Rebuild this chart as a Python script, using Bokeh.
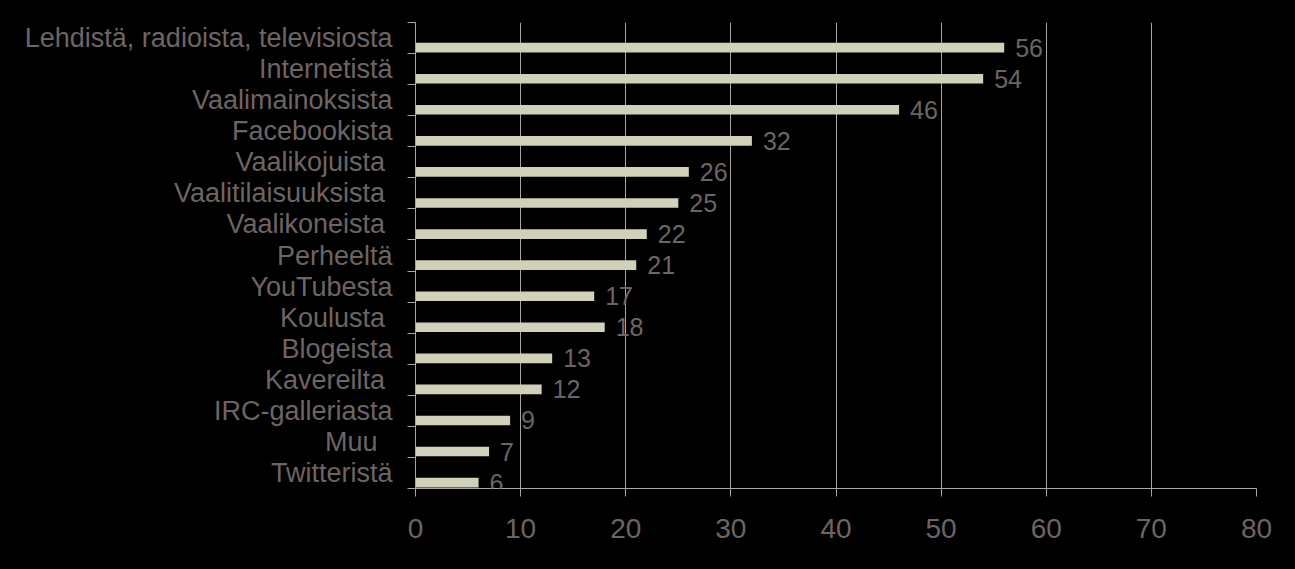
from bokeh.plotting import figure
from bokeh.models import ColumnDataSource, Range1d, FixedTicker, LabelSet
from bokeh.embed import file_html
from bokeh.resources import INLINE
from bokeh.core.properties import value

categories = ["Lehdistä, radioista, televisiosta", "Internetistä", "Vaalimainoksista",
              "Facebookista", "Vaalikojuista ", "Vaalitilaisuuksista ", "Vaalikoneista ",
              "Perheeltä", "YouTubesta", "Koulusta ", "Blogeista", "Kavereilta ",
              "IRC-galleriasta", "Muu  ", "Twitteristä"]
values = [56, 54, 46, 32, 26, 25, 22, 21, 17, 18, 13, 12, 9, 7, 6]
x_ticks = [0, 10, 20, 30, 40, 50, 60, 70, 80]

TEXT = "#6E6466"
GRID = "#A6A6A6"
BAR = "#D1D1B9"
FONT = "Liberation Sans"

n = len(categories)
centers = [n - i - 0.5 for i in range(n)]
bar_y = [c - 0.31 for c in centers]

src = ColumnDataSource(dict(cat=categories, val=values, y=bar_y,
                            lab=[str(v) for v in values]))

p = figure(width=1295, height=569, output_backend="svg", toolbar_location=None,
           x_range=Range1d(0, 80), y_range=Range1d(0, n),
           background_fill_color="black", border_fill_color="black",
           min_border_left=415, min_border_right=39, min_border_top=22,
           min_border_bottom=81)
p.outline_line_color = None

p.hbar(y="y", right="val", left=0, height=0.31, source=src, fill_color=BAR,
       line_color=None)

labels = LabelSet(x="val", y="y", text="lab", source=src, x_offset=11,
                  text_baseline="middle", text_align="left",
                  text_color=TEXT, text_font=value(FONT), text_font_size="25px")
p.add_layout(labels)

# x axis
p.xaxis.ticker = FixedTicker(ticks=x_ticks)
p.xaxis.axis_line_color = GRID
p.xaxis.major_tick_line_color = GRID
p.xaxis.major_tick_out = 8
p.xaxis.major_tick_in = 0
p.xaxis.minor_tick_line_color = None
p.xaxis.major_label_text_color = TEXT
p.xaxis.major_label_text_font = FONT
p.xaxis.major_label_text_font_size = "28px"
p.xaxis.major_label_standoff = 22

# y axis
p.yaxis.ticker = FixedTicker(ticks=centers, minor_ticks=list(range(n + 1)))
p.yaxis.major_label_overrides = {c: cat for c, cat in zip(centers, categories)}
p.yaxis.axis_line_color = GRID
p.yaxis.major_tick_line_color = None
p.yaxis.major_tick_out = 0
p.yaxis.major_tick_in = 0
p.yaxis.minor_tick_line_color = GRID
p.yaxis.minor_tick_out = 8
p.yaxis.minor_tick_in = 0
p.yaxis.major_label_text_color = TEXT
p.yaxis.major_label_text_font = FONT
p.yaxis.major_label_text_font_size = "27px"
p.yaxis.major_label_standoff = 15

p.xgrid.grid_line_color = GRID
p.xgrid.grid_line_width = 1
p.ygrid.grid_line_color = None

html = file_html(p, INLINE)
html = html.replace("</head>", "<style>html, body { background: #000; overflow: hidden; }</style></head>", 1)
open("out.html", "w").write(html)
